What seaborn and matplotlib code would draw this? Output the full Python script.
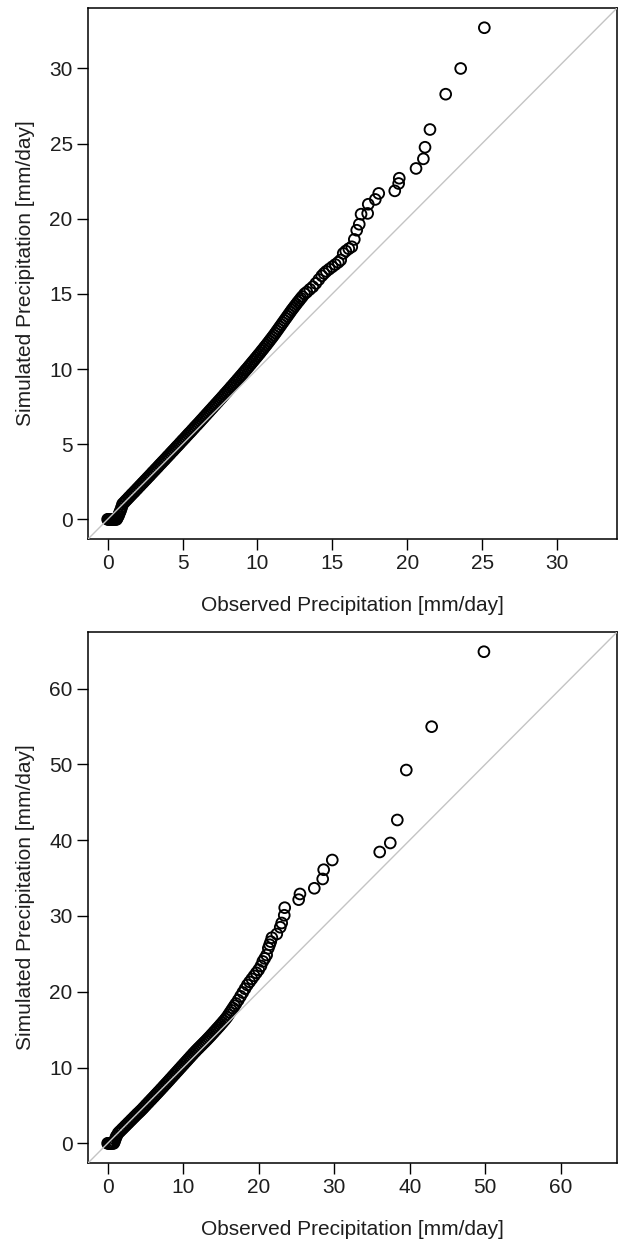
"""QQ plots of simulated vs observed daily precipitation (two stations)."""

import matplotlib

matplotlib.use("Agg")
import matplotlib.pyplot as plt
import pandas as pd
import seaborn as sns

sns.set_theme(style="ticks")
plt.rcParams["font.family"] = ["Liberation Sans", "DejaVu Sans"]

X_LABEL = "Observed Precipitation [mm/day]"
Y_LABEL = "Simulated Precipitation [mm/day]"

# ---- panel 1: sorted quantiles ----
obs_top = [
    0.00, 0.05, 0.10, 0.15, 0.20, 0.25, 0.30, 0.35, 0.40, 0.45, 0.50, 0.55, 0.60,
    0.65, 0.70, 0.75, 0.80, 0.85, 0.90, 0.95,
    1.0, 1.1, 1.2, 1.3, 1.4, 1.5, 1.6, 1.7, 1.8, 1.9,
    2.0, 2.1, 2.2, 2.3, 2.4, 2.5, 2.6, 2.7, 2.8, 2.9,
    3.0, 3.1, 3.2, 3.3, 3.4, 3.5, 3.6, 3.7, 3.8, 3.9,
    4.0, 4.1, 4.2, 4.3, 4.4, 4.5, 4.6, 4.7, 4.8, 4.9,
    5.0, 5.1, 5.2, 5.3, 5.4, 5.5, 5.6, 5.7, 5.8, 5.9,
    6.0, 6.1, 6.2, 6.3, 6.4, 6.5, 6.6, 6.7, 6.8, 6.9,
    7.0, 7.1, 7.2, 7.3, 7.4, 7.5, 7.6, 7.7, 7.8, 7.9,
    8.0, 8.1, 8.2, 8.3, 8.4, 8.5, 8.6, 8.7, 8.8, 8.9,
    9.0, 9.1, 9.2, 9.3, 9.4, 9.5, 9.6, 9.7, 9.8, 9.9,
    10.0, 10.1, 10.2, 10.3, 10.4, 10.5, 10.6, 10.7, 10.8, 10.9,
    11.0, 11.1, 11.2, 11.3, 11.4, 11.5, 11.6, 11.7, 11.8, 11.9,
    12.0, 12.1, 12.2, 12.3, 12.4, 12.5, 12.6, 12.7, 12.8, 12.9,
    13.0, 13.15, 13.3, 13.5, 13.7, 13.9, 14.1, 14.3, 14.45, 14.6,
    14.8, 15.0, 15.2, 15.4, 15.56, 15.73, 15.9, 16.1, 16.3, 16.47,
    16.63, 16.8, 16.92, 17.36, 17.4, 17.87, 18.1, 19.17, 19.43, 19.47,
    20.59, 21.08, 21.19, 21.52, 22.57, 23.57, 25.15,
]
sim_top = [
    0.00, 0.00, 0.00, 0.00, 0.00, 0.00, 0.00, 0.00, 0.00, 0.00, 0.00, 0.00, 0.00,
    0.10, 0.20, 0.30, 0.45, 0.55, 0.70, 0.85,
    1.02, 1.12, 1.23, 1.33, 1.44, 1.54, 1.65, 1.75, 1.85, 1.96,
    2.06, 2.17, 2.27, 2.38, 2.48, 2.59, 2.69, 2.80, 2.90, 3.01,
    3.12, 3.22, 3.33, 3.43, 3.54, 3.65, 3.75, 3.86, 3.96, 4.07,
    4.18, 4.28, 4.39, 4.50, 4.60, 4.71, 4.82, 4.92, 5.03, 5.14,
    5.25, 5.35, 5.46, 5.57, 5.68, 5.78, 5.89, 6.00, 6.11, 6.22,
    6.32, 6.43, 6.54, 6.65, 6.76, 6.87, 6.98, 7.09, 7.20, 7.31,
    7.42, 7.53, 7.64, 7.75, 7.86, 7.97, 8.08, 8.19, 8.31, 8.42,
    8.53, 8.64, 8.76, 8.87, 8.98, 9.10, 9.21, 9.33, 9.44, 9.56,
    9.67, 9.79, 9.91, 10.02, 10.14, 10.26, 10.38, 10.50, 10.62, 10.74,
    10.86, 10.98, 11.10, 11.23, 11.35, 11.48, 11.60, 11.73, 11.86, 11.99,
    12.12, 12.25, 12.39, 12.53, 12.67, 12.81, 12.95, 13.09, 13.23, 13.37,
    13.51, 13.65, 13.79, 13.93, 14.06, 14.19, 14.32, 14.45, 14.57, 14.70,
    14.82, 15.00, 15.12, 15.30, 15.47, 15.70, 15.95, 16.20, 16.36, 16.50,
    16.65, 16.80, 16.95, 17.10, 17.25, 17.69, 17.85, 18.00, 18.13, 18.62,
    19.23, 19.63, 20.30, 20.35, 20.96, 21.28, 21.68, 21.85, 22.34, 22.69,
    23.34, 23.98, 24.75, 25.93, 28.28, 29.99, 32.70,
]

# ---- panel 2 ----
obs_bot = [
    0.0, 0.1, 0.2, 0.3, 0.4, 0.5, 0.6, 0.7, 0.8, 0.9, 1.0, 1.1, 1.2,
    1.4, 1.6, 1.8, 2.0, 2.2, 2.4, 2.6, 2.8, 3.0, 3.2,
    3.4, 3.6, 3.8, 4.0, 4.2, 4.4, 4.6, 4.8, 5.0, 5.2,
    5.4, 5.6, 5.8, 6.0, 6.2, 6.4, 6.6, 6.8, 7.0, 7.2,
    7.4, 7.6, 7.8, 8.0, 8.2, 8.4, 8.6, 8.8, 9.0, 9.2,
    9.4, 9.6, 9.8, 10.0, 10.2, 10.4, 10.6, 10.8, 11.0, 11.2,
    11.4, 11.6, 11.8, 12.0, 12.2, 12.4, 12.6, 12.8, 13.0, 13.2,
    13.4, 13.6, 13.8, 14.0, 14.2, 14.4, 14.6, 14.8, 15.0, 15.2,
    15.4, 15.6, 15.8, 16.0, 16.2, 16.4, 16.6, 16.8, 17.0, 17.3,
    17.6, 17.9, 18.2, 18.5, 18.8, 19.1, 19.4, 19.7, 20.0, 20.3,
    20.55, 20.8, 21.06, 21.28, 21.45, 21.6, 21.75, 22.4, 22.86, 23.05,
    23.39, 23.45, 25.30, 25.47, 27.37, 28.48, 28.61, 29.75, 36.03, 37.43,
    38.36, 39.55, 42.91, 49.83,
]
sim_bot = [
    0.00, 0.00, 0.00, 0.00, 0.00, 0.00, 0.00, 0.00, 0.00, 0.20, 0.50, 0.80, 1.00,
    1.35, 1.55, 1.75, 1.95, 2.15, 2.35, 2.55, 2.75, 2.95, 3.15,
    3.35, 3.55, 3.75, 3.95, 4.13, 4.33, 4.53, 4.74, 4.96, 5.17,
    5.38, 5.59, 5.80, 6.01, 6.22, 6.44, 6.65, 6.86, 7.08, 7.29,
    7.51, 7.73, 7.94, 8.16, 8.38, 8.60, 8.82, 9.04, 9.26, 9.48,
    9.70, 9.92, 10.14, 10.36, 10.58, 10.80, 11.02, 11.24, 11.46, 11.68,
    11.90, 12.11, 12.32, 12.52, 12.72, 12.92, 13.12, 13.32, 13.52, 13.73,
    13.94, 14.15, 14.37, 14.59, 14.81, 15.03, 15.25, 15.47, 15.70, 15.93,
    16.16, 16.40, 16.65, 16.95, 17.25, 17.55, 17.85, 18.15, 18.45, 18.90,
    19.40, 19.90, 20.40, 20.90, 21.30, 21.70, 22.10, 22.50, 22.90, 23.40,
    24.00, 24.40, 24.85, 25.74, 26.20, 26.61, 27.13, 27.62, 28.51, 29.07,
    30.09, 31.09, 32.15, 32.90, 33.65, 34.88, 36.10, 37.38, 38.44, 39.63,
    42.66, 49.25, 54.97, 64.86,
]

top_ticks = [0, 5, 10, 15, 20, 25, 30]
bot_ticks = [0, 10, 20, 30, 40, 50, 60]


def qq_panel(ax, obs, sim, ticks):
    df = pd.DataFrame({"obs": obs, "sim": sim})
    sns.scatterplot(
        data=df, x="obs", y="sim", ax=ax, marker="o", s=60,
        facecolor="none", edgecolor="black", linewidth=1.35, zorder=2,
    )
    # R-style 4% padding of the common data range
    hi = max(max(obs), max(sim))
    lo = min(min(obs), min(sim))
    pad = 0.04 * (hi - lo)
    ax.set_xlim(lo - pad, hi + pad)
    ax.set_ylim(lo - pad, hi + pad)
    ax.axline((0, 0), slope=1, color="#c4c4c4", linewidth=1.0, zorder=3)
    ax.set_xticks(ticks)
    ax.set_yticks(ticks)
    ax.tick_params(axis="both", length=8, width=1.0, color="black",
                   labelsize=15, pad=3, labelcolor="#1e1e1e")
    for sp in ax.spines.values():
        sp.set_visible(True)
        sp.set_color("black")
        sp.set_linewidth(1.1)
    ax.set_xlabel(X_LABEL, fontsize=15, labelpad=16, color="#1e1e1e")
    ax.set_ylabel(Y_LABEL, fontsize=15, labelpad=10, color="#1e1e1e")


fig = plt.figure(figsize=(6.19, 12.42), dpi=100)
ax_top = fig.add_axes([0.1422, 0.566, 0.8546, 0.4275])
ax_bot = fig.add_axes([0.1422, 0.0636, 0.8546, 0.4275])

qq_panel(ax_top, obs_top, sim_top, top_ticks)
qq_panel(ax_bot, obs_bot, sim_bot, bot_ticks)

fig.savefig("out.png", dpi=100)
plt.close(fig)
